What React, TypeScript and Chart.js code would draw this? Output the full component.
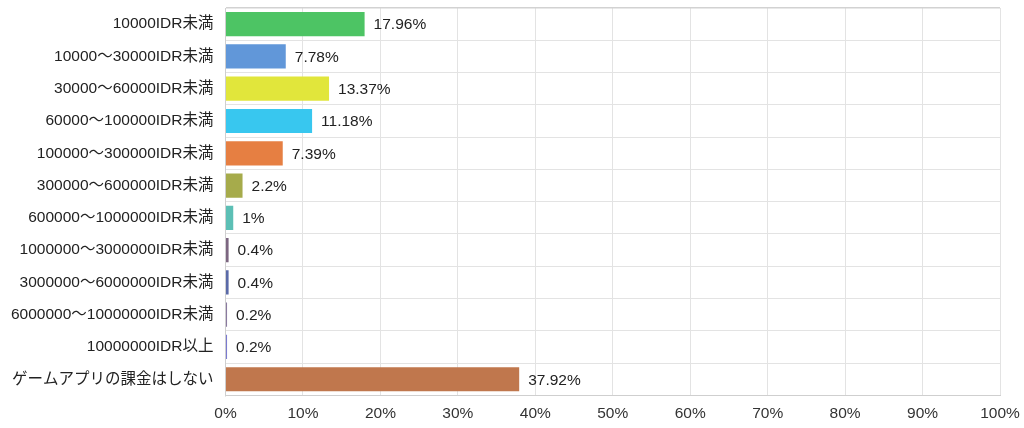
import { Chart } from "chart.js/auto";
import { useEffect, useRef } from "react";

const categories = [
  "10000IDR未満",
  "10000～30000IDR未満",
  "30000～60000IDR未満",
  "60000～100000IDR未満",
  "100000～300000IDR未満",
  "300000～600000IDR未満",
  "600000～1000000IDR未満",
  "1000000～3000000IDR未満",
  "3000000～6000000IDR未満",
  "6000000～10000000IDR未満",
  "10000000IDR以上",
  "ゲームアプリの課金はしない",
];

const shares = [17.96, 7.78, 13.37, 11.18, 7.39, 2.2, 1, 0.4, 0.4, 0.2, 0.2, 37.92];

const barColors = [
  "#4dc464",
  "#6197d9",
  "#e1e63b",
  "#38c7ef",
  "#e67f42",
  "#a6ab4b",
  "#5cbfb5",
  "#7c6680",
  "#5a6aa8",
  "#8a7aa0",
  "#7a7ad0",
  "#c0774d",
];

const FONT = "'Liberation Sans', Arial, 'Noto Sans CJK JP', sans-serif";
const SIZE = 15.5;

// draws the "17.96%" style text just past the end of each bar
const valueLabels = {
  id: "valueLabels",
  afterDatasetsDraw(chart: Chart) {
    const { ctx } = chart;
    const meta = chart.getDatasetMeta(0);
    ctx.save();
    ctx.font = `${SIZE}px ${FONT}`;
    ctx.fillStyle = "#222";
    ctx.textAlign = "left";
    ctx.textBaseline = "middle";
    meta.data.forEach((bar: any, i: number) => {
      ctx.fillText(`${shares[i]}%`, bar.x + 9, bar.y + 1);
    });
    ctx.restore();
  },
};

function ShareChart() {
  const canvasRef = useRef<HTMLCanvasElement | null>(null);
  const chartRef = useRef<Chart | null>(null);

  useEffect(() => {
    const canvas = canvasRef.current;
    if (!canvas) return;
    const ctx = canvas.getContext("2d");
    if (!ctx) return;

    chartRef.current?.destroy();
    chartRef.current = new Chart(ctx, {
      type: "bar",
      data: {
        labels: categories,
        datasets: [
          {
            data: shares,
            backgroundColor: barColors,
            barPercentage: 0.75,
            categoryPercentage: 1,
          },
        ],
      },
      options: {
        indexAxis: "y",
        animation: false,
        responsive: true,
        maintainAspectRatio: false,
        layout: { padding: { top: 8, right: 24, left: -1, bottom: -4 } },
        plugins: {
          legend: { display: false },
          tooltip: { enabled: false },
        },
        scales: {
          x: {
            min: 0,
            max: 100,
            afterFit: (scale: any) => {
              scale.paddingRight = 0;
            },
            ticks: {
              stepSize: 10,
              color: "#333",
              font: { family: FONT, size: SIZE },
              callback: (v: any) => `${v}%`,
              padding: 9,
            },
            grid: { color: "#e3e3e3", drawTicks: false },
            border: { color: "#cfcfcf" },
          },
          y: {
            afterFit: (scale: any) => {
              scale.paddingTop = 0;
              scale.paddingBottom = 0;
            },
            ticks: {
              color: "#222",
              font: { family: FONT, size: SIZE },
              padding: 12,
            },
            grid: {
              color: (c: any) => (c.index === 0 ? "#d2d2d2" : "#e3e3e3"),
              lineWidth: (c: any) => (c.index === 0 ? 1.5 : 1),
              drawTicks: false,
            },
            border: { color: "#cfcfcf" },
          },
        },
      },
      plugins: [valueLabels],
    });

    return () => {
      chartRef.current?.destroy();
      chartRef.current = null;
    };
  }, []);

  return <canvas ref={canvasRef} />;
}

export default function App() {
  document.body.style.margin = "0";
  return (
    <div style={{ width: 1024, height: 428, position: "relative", background: "#fff" }}>
      <ShareChart />
    </div>
  );
}
